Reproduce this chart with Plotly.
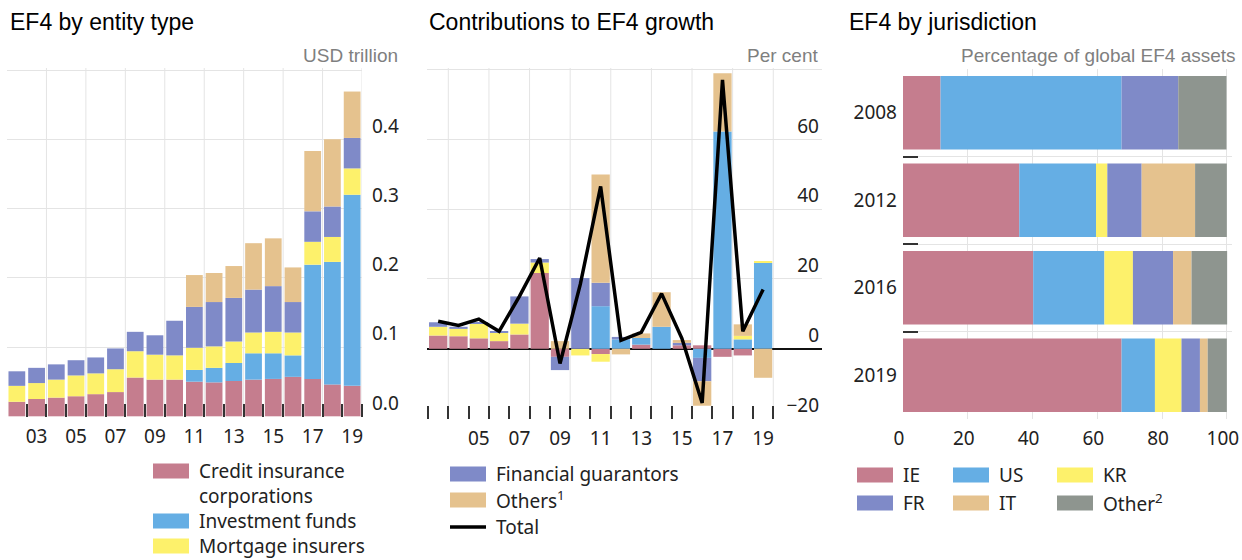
import plotly.graph_objects as go

# ---------------- data ----------------
# Panel 1: EF4 by entity type (USD trillion)
years_a = list(range(2002, 2020))
credit_a = [0.021, 0.025, 0.027, 0.029, 0.032, 0.035, 0.056, 0.053, 0.053, 0.050, 0.049, 0.051, 0.053, 0.054, 0.057, 0.054, 0.046, 0.044]
funds_a = [0, 0, 0, 0, 0, 0, 0, 0, 0, 0.017, 0.021, 0.026, 0.038, 0.037, 0.031, 0.165, 0.177, 0.276]
mortgage_a = [0.023, 0.023, 0.026, 0.030, 0.030, 0.033, 0.038, 0.036, 0.035, 0.032, 0.031, 0.031, 0.030, 0.031, 0.033, 0.033, 0.036, 0.038]
guarantors_a = [0.021, 0.022, 0.022, 0.022, 0.023, 0.030, 0.028, 0.028, 0.050, 0.059, 0.064, 0.063, 0.062, 0.066, 0.044, 0.044, 0.044, 0.044]
others_a = [0, 0, 0, 0, 0, 0, 0, 0, 0, 0.046, 0.042, 0.046, 0.067, 0.069, 0.050, 0.087, 0.097, 0.067]

# Panel 2: Contributions to EF4 growth (per cent)
years_b = list(range(2003, 2020))
credit_b = [3.8, 3.6, 3.0, 2.2, 4.1, 21.7, -2.3, 0, -1.5, 0, 1.2, 0, 1.0, 1.0, -2.3, -1.9, 0]
funds_b = [0, 0, 0, 0, 0, 0, 0, 0, 12.2, 2.7, 1.9, 6.3, 0, -2.6, 62.2, 2.7, 24.6]
mortgage_b = [2.5, 2.1, 4.2, 2.4, 3.1, 3.0, 0, -1.9, -2.2, 0, 0, 0, 0, 0, 0, 1.0, 0.3]
guarantors_b = [1.3, 0.6, 0.4, 0.3, 7.8, 1.0, -3.8, 20.3, 6.7, 0.7, 0, 0, 0.7, -6.7, 0, 0, 0]
others_b = [0, 0, 0, 0, 0, 0, 2.2, 0, 31.0, -1.6, 1.3, 9.9, 0.8, -7.0, 16.7, 3.3, -8.3]
total_b = [7.9, 6.7, 8.5, 5.0, 15.0, 26.0, -4.2, 18.5, 46.5, 2.4, 4.7, 15.8, 3.0, -15.5, 77.0, 5.0, 17.0]

# Panel 3: EF4 by jurisdiction (percentage of global EF4 assets)
juris_years = ["2008", "2012", "2016", "2019"]
ie_c = [11.6, 35.9, 40.2, 67.5]
us_c = [55.9, 23.7, 22.0, 10.3]
kr_c = [0.0, 3.5, 8.8, 8.2]
fr_c = [17.5, 10.6, 12.4, 5.7]
it_c = [0.0, 16.5, 5.7, 2.4]
other_c = [14.9, 9.8, 11.0, 5.9]

# tick labels
tick_years_a = [2003, 2005, 2007, 2009, 2011, 2013, 2015, 2017, 2019]
tick_years_b = [2005, 2007, 2009, 2011, 2013, 2015, 2017, 2019]
tick_vals_ya = [0, 0.1, 0.2, 0.3, 0.4]
tick_text_ya = ["0.0", "0.1", "0.2", "0.3", "0.4"]
tick_vals_yb = [-20, 0, 20, 40, 60]
tick_text_yb = ["\u221220", "0", "20", "40", "60"]
tick_vals_xc = [0, 20, 40, 60, 80, 100]

# ---------------- style ----------------
PINK = "#C57D8E"
BLUE = "#65AEE4"
YELLOW = "#FDF16B"
PURPLE = "#7F8AC8"
TAN = "#E5C28E"
GREY = "#8E958F"
GRID = "#e4e4e4"
TXT = "#222222"
W, H = 1242, 560
TICKFONT = dict(family="Noto Sans", size=19, color=TXT)


def fx(p):
    return p / W


def fy(p):
    return 1 - p / H


fig = go.Figure()

series_a = [("Credit insurance corporations", credit_a, PINK),
            ("Investment funds", funds_a, BLUE),
            ("Mortgage insurers", mortgage_a, YELLOW),
            ("Financial guarantors", guarantors_a, PURPLE),
            ("Others", others_a, TAN)]
for name, vals, col in series_a:
    fig.add_trace(go.Bar(x=years_a, y=vals, name=name, marker=dict(color=col, line=dict(width=0)),
                         width=0.85, xaxis="x", yaxis="y", showlegend=False))

series_b = [("Credit insurance corporations", credit_b, PINK),
            ("Investment funds", funds_b, BLUE),
            ("Mortgage insurers", mortgage_b, YELLOW),
            ("Financial guarantors", guarantors_b, PURPLE),
            ("Others", others_b, TAN)]
for name, vals, col in series_b:
    fig.add_trace(go.Bar(x=years_b, y=vals, name=name, marker=dict(color=col, line=dict(width=0)),
                         width=0.9, xaxis="x2", yaxis="y2", showlegend=False))
fig.add_trace(go.Scatter(x=years_b, y=total_b, name="Total", mode="lines",
                         line=dict(color="black", width=3.5), xaxis="x2", yaxis="y2", showlegend=False))

series_c = [("IE", ie_c, PINK), ("US", us_c, BLUE), ("KR", kr_c, YELLOW),
            ("FR", fr_c, PURPLE), ("IT", it_c, TAN), ("Other", other_c, GREY)]
for name, vals, col in series_c:
    fig.add_trace(go.Bar(y=juris_years, x=vals, name=name, orientation="h",
                         marker=dict(color=col, line=dict(width=0)),
                         width=0.84, xaxis="x3", yaxis="y3", showlegend=False))

# gridlines at bar boundaries (every second year)
shapes = []
for g in [2003.5 + 2 * i for i in range(9)]:
    shapes.append(dict(type="line", xref="x", yref="y domain", x0=g, x1=g, y0=0, y1=1,
                       line=dict(color=GRID, width=1), layer="below"))
    shapes.append(dict(type="line", xref="x2", yref="y2 domain", x0=g, x1=g, y0=0, y1=1,
                       line=dict(color=GRID, width=1), layer="below"))

annotations = []
# titles
for txt, x in [("EF4 by entity type", 8), ("Contributions to EF4 growth", 427), ("EF4 by jurisdiction", 847)]:
    annotations.append(dict(text=txt, xref="paper", yref="paper", x=fx(x), y=fy(22), xanchor="left",
                            yanchor="middle", showarrow=False,
                            font=dict(family="Liberation Sans", size=23, color="black")))
for txt, x in [("USD trillion", 400), ("Per cent", 820), ("Percentage of global EF4 assets", 1238)]:
    annotations.append(dict(text=txt, xref="paper", yref="paper", x=fx(x), y=fy(56), xanchor="right",
                            yanchor="middle", showarrow=False,
                            font=dict(family="Liberation Sans", size=19, color="#7f7f7f")))

# custom legends
LEGFONT = dict(family="Noto Sans", size=19, color=TXT)


def add_item(label, col, sx, ty, kind="box", tx=None, sw=36):
    if kind == "box":
        shapes.append(dict(type="rect", xref="paper", yref="paper", x0=fx(sx), x1=fx(sx + sw),
                           y0=fy(ty + 7.5), y1=fy(ty - 7.5), fillcolor=col, line=dict(width=0)))
    else:
        shapes.append(dict(type="line", xref="paper", yref="paper", x0=fx(sx), x1=fx(sx + sw),
                           y0=fy(ty), y1=fy(ty), line=dict(color=col, width=3.5)))
    annotations.append(dict(text=label, xref="paper", yref="paper",
                            x=fx(tx if tx is not None else sx + sw + 8), y=fy(ty),
                            xanchor="left", yanchor="middle", showarrow=False, font=LEGFONT))


add_item("Credit insurance", PINK, 153, 471)
annotations.append(dict(text="corporations", xref="paper", yref="paper", x=fx(197), y=fy(496),
                        xanchor="left", yanchor="middle", showarrow=False, font=LEGFONT))
add_item("Investment funds", BLUE, 153, 521)
add_item("Mortgage insurers", YELLOW, 153, 546)
add_item("Financial guarantors", PURPLE, 450, 474)
add_item("Others<sup>1</sup>", TAN, 450, 500)
add_item("Total", "black", 450, 527, kind="line")
add_item("IE", PINK, 857, 475)
add_item("US", BLUE, 953, 475)
add_item("KR", YELLOW, 1057, 475)
add_item("FR", PURPLE, 857, 503)
add_item("IT", TAN, 953, 503)
add_item("Other<sup>2</sup>", GREY, 1057, 503)

fig.update_layout(
    width=W, height=H,
    margin=dict(l=0, r=0, t=0, b=0),
    paper_bgcolor="white", plot_bgcolor="white",
    barmode="relative",
    showlegend=False,
    shapes=shapes,
    annotations=annotations,
    xaxis=dict(domain=[fx(7), fx(362)], anchor="y", range=[2001.5, 2019.5],
               tickvals=tick_years_a, ticktext=[f"{y % 100:02d}" for y in tick_years_a],
               ticks="", showgrid=False, zeroline=False, showline=False,
               tickfont=TICKFONT, ticklabelstandoff=6, automargin=False,
               minor=dict(tickvals=[2002.5 + i for i in range(18)], ticks="inside", ticklen=13,
                          tickwidth=2, tickcolor="#333333", showgrid=False)),
    yaxis=dict(domain=[fy(417), fy(68)], anchor="x", side="right", range=[-0.001, 0.503],
               tickvals=tick_vals_ya, ticktext=tick_text_ya, ticklabelposition="outside top",
               showgrid=True, gridcolor=GRID, gridwidth=1, zeroline=False, showline=False,
               ticks="", tickfont=TICKFONT, ticklabelstandoff=9, automargin=False,
               minor=dict(tickvals=[0.5], showgrid=True, gridcolor=GRID, ticks="")),
    xaxis2=dict(domain=[fx(427), fx(822)], anchor="y2", range=[2002.45, 2021.9],
                tickvals=tick_years_b, ticktext=[f"{y % 100:02d}" for y in tick_years_b],
                ticks="", showgrid=False, zeroline=False, showline=False,
                tickfont=TICKFONT, ticklabelstandoff=6, automargin=False,
                minor=dict(tickvals=[2002.5 + i for i in range(18)], ticks="inside", ticklen=13,
                           tickwidth=2, tickcolor="#333333", showgrid=False)),
    yaxis2=dict(domain=[fy(419), fy(68)], anchor="x2", side="right", range=[-20.1, 80.4],
                tickvals=tick_vals_yb, ticktext=tick_text_yb, ticklabelposition="inside top",
                showgrid=True, gridcolor=GRID, gridwidth=1, zeroline=True, zerolinecolor="#111111",
                zerolinewidth=2, showline=False, ticks="", tickfont=TICKFONT, automargin=False,
                minor=dict(tickvals=[80], showgrid=True, gridcolor=GRID, ticks="")),
    xaxis3=dict(domain=[fx(903), fx(1232)], anchor="y3", range=[0, 101.6],
                tickvals=tick_vals_xc, ticks="", showgrid=True, gridcolor=GRID, zeroline=False,
                showline=False, tickfont=TICKFONT, ticklabelstandoff=6, automargin=False,
                ticklabeloverflow="allow", ticklabelshift=-4),
    yaxis3=dict(domain=[fy(419), fy(69)], anchor="x3", type="category",
                categoryorder="array", categoryarray=juris_years, autorange="reversed",
                tickson="boundaries", ticks="inside", ticklen=15, tickwidth=2, tickcolor="#333333",
                showgrid=True, gridcolor=GRID, zeroline=False, showline=False,
                tickfont=TICKFONT, ticklabelstandoff=5, automargin=False),
)

fig.write_html("out.html", config={"displayModeBar": False},
               post_script="document.body.style.margin='0';document.body.style.overflow='hidden';")
